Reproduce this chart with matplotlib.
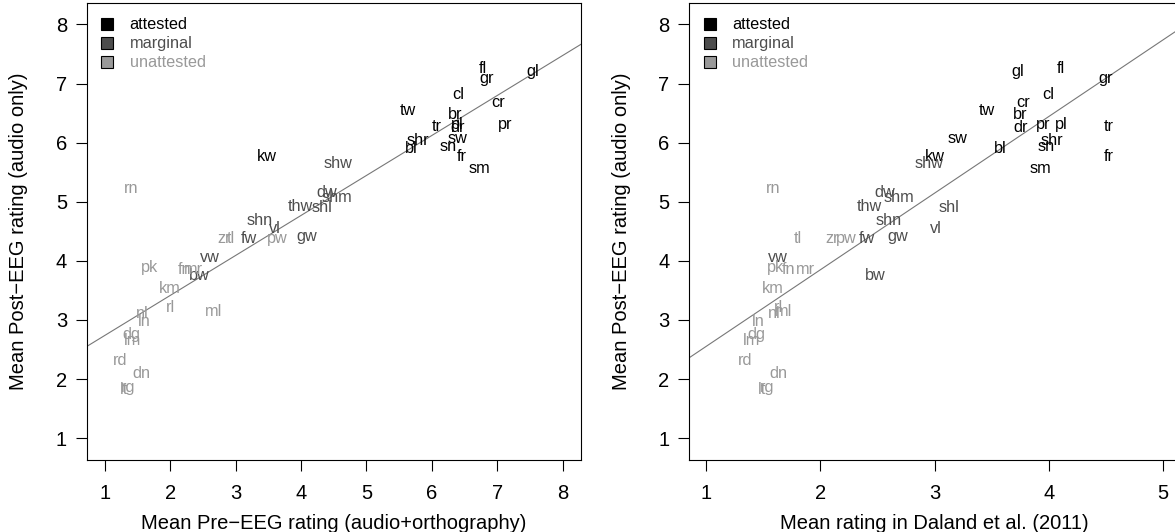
import numpy as np
import matplotlib
matplotlib.use('Agg')
import matplotlib.pyplot as plt
from matplotlib.patches import Patch

plt.rcParams['font.family'] = ['Liberation Sans', 'DejaVu Sans']

# onset clusters, grouped by status
attested = ['fl', 'gr', 'gl', 'cl', 'cr', 'tw', 'br', 'tr', 'pl', 'dr', 'pr',
            'shr', 'bl', 'sw', 'sn', 'fr', 'sm', 'kw']
marginal = ['shw', 'dw', 'shm', 'thw', 'shl', 'shn', 'vl', 'fw', 'gw', 'vw', 'bw']
unattested = ['rn', 'zr', 'tl', 'pw', 'pk', 'fn', 'mr', 'km', 'rl', 'ml', 'nl',
              'ln', 'dg', 'lm', 'rd', 'dn', 'rg', 'lt']

# mean post-EEG rating (audio only)
post_att = [7.26, 7.08, 7.21, 6.82, 6.68, 6.54, 6.48, 6.27, 6.30, 6.25, 6.30,
            6.04, 5.90, 6.07, 5.94, 5.76, 5.57, 5.76]
post_mar = [5.64, 5.15, 5.08, 4.92, 4.91, 4.69, 4.55, 4.38, 4.42, 4.06, 3.76]
post_una = [5.22, 4.38, 4.38, 4.37, 3.89, 3.85, 3.85, 3.54, 3.21, 3.14, 3.11,
            2.97, 2.75, 2.65, 2.32, 2.09, 1.86, 1.82]

# mean pre-EEG rating (audio+orthography)
pre_att = [6.78, 6.84, 7.54, 6.40, 7.01, 5.63, 6.35, 6.07, 6.39, 6.39, 7.12,
           5.79, 5.69, 6.40, 6.25, 6.45, 6.73, 3.48]
pre_mar = [4.57, 4.40, 4.55, 3.99, 4.32, 3.37, 3.60, 3.20, 4.09, 2.61, 2.44]
pre_una = [1.40, 2.83, 2.92, 3.64, 1.68, 2.22, 2.36, 2.00, 2.00, 2.67, 1.57,
           1.60, 1.40, 1.43, 1.23, 1.56, 1.35, 1.29]

# mean rating in Daland et al. (2011)
dal_att = [4.11, 4.50, 3.73, 4.00, 3.78, 3.46, 3.75, 4.53, 4.11, 3.75, 3.95,
           4.03, 3.58, 3.20, 3.98, 4.53, 3.93, 3.00]
dal_mar = [2.95, 2.56, 2.69, 2.43, 3.13, 2.60, 3.01, 2.41, 2.68, 1.63, 2.48]
dal_una = [1.585, 2.10, 1.80, 2.23, 1.61, 1.72, 1.87, 1.58, 1.63, 1.68, 1.60,
           1.46, 1.44, 1.40, 1.34, 1.63, 1.53, 1.49]

groups = ['attested', 'marginal', 'unattested']
colors = ['black', '#4d4d4d', '#999999']
names = [attested, marginal, unattested]
post = [post_att, post_mar, post_una]

W, H = 1175, 532
fig = plt.figure(figsize=(W / 100, H / 100), dpi=100)


def px_axes(l, r, t, b):
    return fig.add_axes([l / W, 1 - b / H, (r - l) / W, (b - t) / H])


def panel(ax, xs, xlim, xticks, xlabel):
    for lab, xv, yv, c in zip(names, xs, post, colors):
        for s, x, y in zip(lab, xv, yv):
            ax.text(x, y, s, color=c, fontsize=11.7, ha='center', va='center')
    allx = np.concatenate([np.array(v) for v in xs])
    ally = np.concatenate([np.array(v) for v in post])
    b, a = np.polyfit(allx, ally, 1)
    xx = np.array(xlim)
    ax.plot(xx, a + b * xx, color='#777777', lw=0.8)
    ax.set_xlim(xlim)
    ax.set_ylim(0.63, 8.37)
    ax.set_xticks(xticks)
    ax.set_yticks(range(1, 9))
    ax.tick_params(direction='out', length=8, width=0.8, labelsize=14.5)
    ax.tick_params(axis='x', pad=9)
    ax.tick_params(axis='y', pad=6)
    for sp in ax.spines.values():
        sp.set_linewidth(0.8)
    ax.set_xlabel(xlabel, fontsize=14.5)
    ax.set_ylabel('Mean Post\u2212EEG rating (audio only)', fontsize=14.5)
    ax.xaxis.set_label_coords(0.5, -0.138)
    ax.xaxis.label.set_va('center')
    ax.yaxis.set_label_coords(-0.138, 0.5)
    ax.yaxis.label.set_va('center')
    handles = [Patch(facecolor=c, edgecolor='black', lw=0.8) for c in colors]
    ax.legend(handles, groups, loc='upper left', frameon=False, fontsize=11.7,
              labelcolor=colors, handlelength=0.75, handleheight=0.75,
              handletextpad=1.0, labelspacing=0.25, borderaxespad=0.5)


ax1 = px_axes(86.5, 581, 2.6, 460)
panel(ax1, [pre_att, pre_mar, pre_una], (0.72, 8.28), range(1, 9),
      'Mean Pre\u2212EEG rating (audio+orthography)')

ax2 = px_axes(689, 1180, 2.6, 460)
panel(ax2, [dal_att, dal_mar, dal_una], (0.85, 5.15), range(1, 6),
      'Mean rating in Daland et al. (2011)')
ax2.yaxis.set_label_coords(-0.1365, 0.5)

fig.savefig('out.png', dpi=100)
